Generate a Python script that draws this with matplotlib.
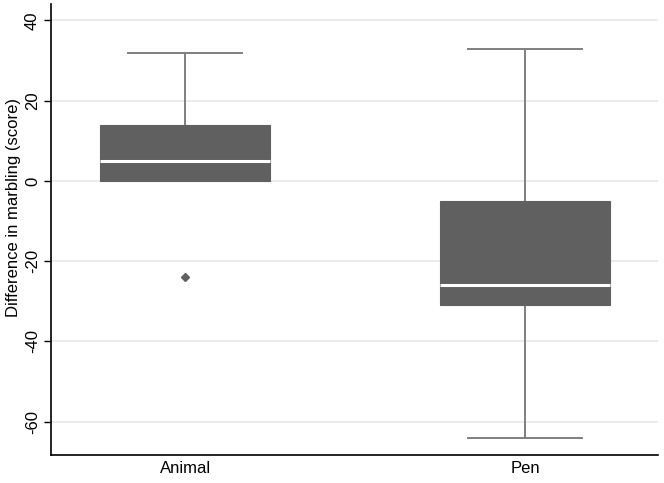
import matplotlib
matplotlib.use("Agg")
import matplotlib.pyplot as plt

plt.rcParams['font.family'] = ['Liberation Sans', 'DejaVu Sans']

categories = ["Animal", "Pen"]
q1 = [0, -31]
median = [5, -26]
q3 = [14, -5]
whisker_low = [0, -64]
whisker_high = [32, 33]
outliers = [[-24], []]
y_ticks = [40, 20, 0, -20, -40, -60]

stats = []
for i, c in enumerate(categories):
    stats.append(dict(label=c, q1=q1[i], med=median[i], q3=q3[i],
                      whislo=whisker_low[i], whishi=whisker_high[i],
                      fliers=outliers[i]))

fig = plt.figure(figsize=(6.64, 4.83), dpi=100)
ax = fig.add_axes([51/664, 28/483, (658-51)/664, (455-4)/483])

ax.set_axisbelow(True)
ax.yaxis.grid(True, color='#e8e8e8', linewidth=1.2)

box_color = '#606060'
ax.bxp(stats, positions=[1, 2], widths=0.5, patch_artist=True,
       showcaps=True,
       boxprops=dict(facecolor=box_color, edgecolor=box_color, linewidth=0.8, zorder=3),
       medianprops=dict(color='white', linewidth=2.2, zorder=4),
       whiskerprops=dict(color='#7f7f7f', linewidth=1.4, zorder=2),
       capprops=dict(color='#7f7f7f', linewidth=1.4, zorder=2),
       capwidths=0.335,
       flierprops=dict(marker='D', markerfacecolor=box_color,
                       markeredgecolor=box_color, markersize=4.5))

ax.set_xlim(0.605, 2.39)
ax.set_ylim(-68.3, 44.1)
ax.set_yticks(y_ticks)
ax.set_yticklabels([str(t) for t in y_ticks], rotation=90, va='center', fontsize=12)
ax.set_xticks([1, 2])
ax.set_xticklabels(categories, fontsize=12)
ax.tick_params(axis='x', length=0, pad=4)
ax.tick_params(axis='y', length=5, width=1, color='black', pad=3)
ax.set_ylabel("Difference in marbling (score)", fontsize=12)
ax.yaxis.set_label_coords(-0.049, 0.548)

for s in ['top', 'right']:
    ax.spines[s].set_visible(False)
for s in ['left', 'bottom']:
    ax.spines[s].set_color('black')
    ax.spines[s].set_linewidth(1.2)

fig.savefig("out.png", dpi=100)
